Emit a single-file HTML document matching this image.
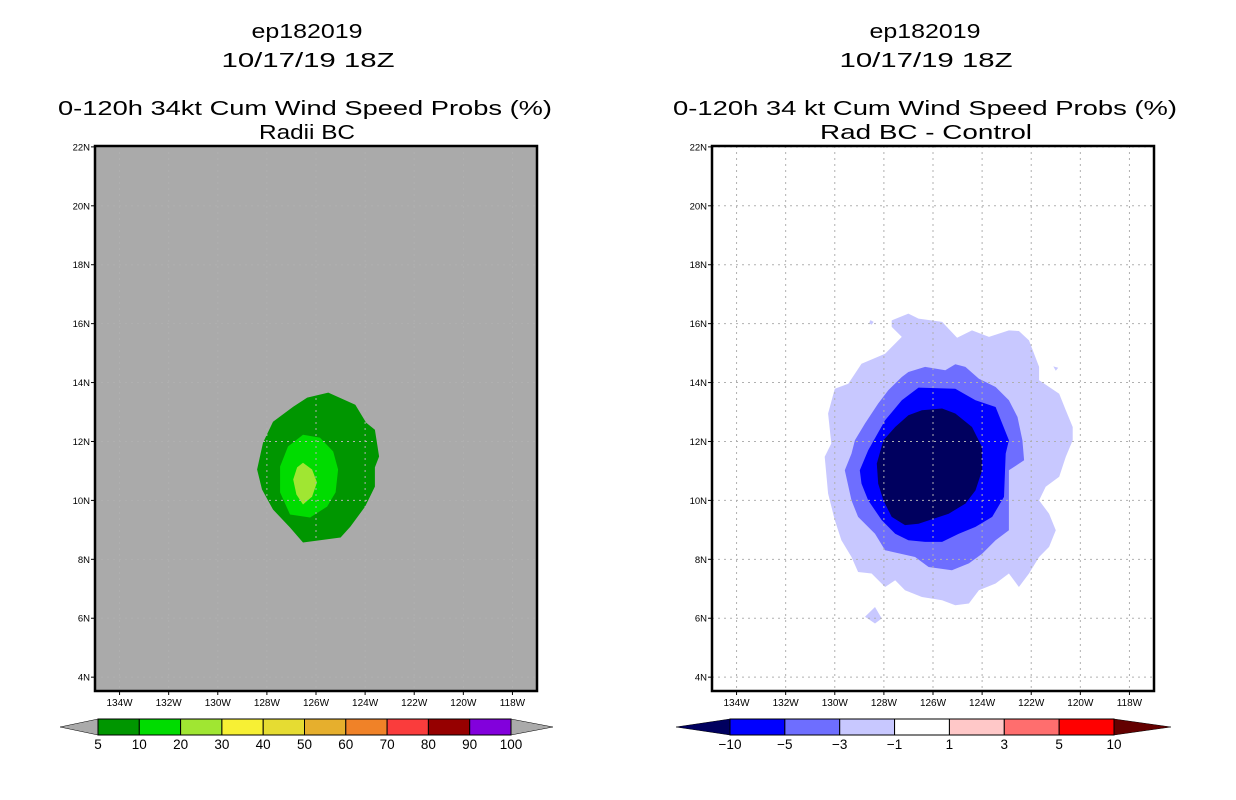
<!DOCTYPE html>
<html><head><meta charset="utf-8"><style>
html,body{margin:0;padding:0;background:#fff;}
svg{display:block;font-family:"Liberation Sans",sans-serif;}
</style></head><body>
<svg id="chart" width="1236" height="800" viewBox="0 0 1236 800" xmlns="http://www.w3.org/2000/svg">
<rect width="1236" height="800" fill="#fff"/>
<g font-size="20" text-anchor="middle" fill="#000">
<text x="307" y="38" textLength="111" lengthAdjust="spacingAndGlyphs">ep182019</text>
<text x="308" y="67" textLength="173" lengthAdjust="spacingAndGlyphs">10/17/19 18Z</text>
<text x="305" y="115" textLength="494" lengthAdjust="spacingAndGlyphs">0-120h 34kt Cum Wind Speed Probs (%)</text>
<text x="307" y="139" textLength="96" lengthAdjust="spacingAndGlyphs">Radii BC</text>
</g>
<g font-size="20" text-anchor="middle" fill="#000">
<text x="925" y="38" textLength="111" lengthAdjust="spacingAndGlyphs">ep182019</text>
<text x="926" y="67" textLength="173" lengthAdjust="spacingAndGlyphs">10/17/19 18Z</text>
<text x="925" y="115" textLength="504" lengthAdjust="spacingAndGlyphs">0-120h 34 kt Cum Wind Speed Probs (%)</text>
<text x="926" y="139" textLength="212" lengthAdjust="spacingAndGlyphs">Rad BC - Control</text>
</g>
<g id="left"></g>
<g id="right"></g>
<g id="cbl"></g>
<g id="cbr"></g>
</svg>
<script>
// ---- data ----
const lonTicks = [134,132,130,128,126,124,122,120,118];
const latTicks = [4,6,8,10,12,14,16,18,22,20];
// left panel probability contours (lonW, latN)
const probLevels = ['5-10','10-20','20-30'];
const probColors = ['#009600','#00dc00','#a0e632'];
const prob5 = [[125.5,13.66],[124.4,13.25],[123.96,12.64],[123.6,12.4],[123.43,11.49],[123.6,11.12],[123.6,10.47],[124.0,9.79],[124.6,9.11],[125.0,8.74],[126.53,8.57],[127.06,9.08],[127.75,9.69],[128.2,10.37],[128.4,11.05],[128.16,11.96],[127.75,12.67],[126.93,13.18],[126.36,13.49]];
const prob10 = [[126.53,12.23],[125.84,12.13],[125.3,11.66],[125.1,11.05],[125.2,10.27],[125.55,9.79],[126.24,9.42],[127.06,9.52],[127.46,10.27],[127.46,11.15],[127.14,11.83]];
const prob20 = [[126.53,11.28],[126.16,11.05],[125.96,10.61],[126.16,10.13],[126.53,9.86],[126.8,10.2],[126.93,10.71],[126.77,11.12]];
// right panel difference contours
const diffColors = ['#c8c8ff','#6e6eff','#0000ff','#00005f'];
const diffM1 = [[127.68,16.11],[127.0,16.34],[126.59,16.17],[125.63,16.06],[125.02,15.52],[124.41,15.77],[123.72,15.55],[122.91,15.77],[122.5,15.75],[122.09,15.43],[121.68,14.53],[121.68,14.08],[120.86,13.62],[120.59,13.06],[120.31,12.49],[120.31,12.04],[120.59,11.48],[120.86,10.8],[121.41,10.46],[121.68,10.0],[121.27,9.55],[121.0,8.99],[121.27,8.42],[121.68,8.08],[122.09,7.52],[122.5,7.06],[122.91,7.52],[123.45,7.18],[124.13,6.95],[124.54,6.5],[125.09,6.44],[125.63,6.61],[126.45,6.72],[127.14,6.95],[127.54,7.29],[127.95,7.06],[128.5,7.52],[129.05,7.57],[129.32,8.08],[129.73,8.65],[130.0,9.33],[130.27,10.23],[130.41,11.48],[130.14,11.93],[130.27,12.95],[130.0,13.79],[129.45,13.96],[128.91,14.64],[127.95,14.98],[127.27,15.55],[127.68,15.89]];
const diffIsland1 = [[128.36,6.38],[128.09,5.99],[128.36,5.82],[128.77,6.05]];
const diffIsland2 = [[128.55,16.12],[128.42,16.06],[128.5,15.96],[128.6,16.02]];
const diffIsland3 = [[121.1,14.55],[120.9,14.5],[121.0,14.4]];
const diffM3 = [[127.0,14.36],[126.32,14.53],[125.5,14.42],[125.09,14.62],[124.68,14.53],[124.13,14.13],[123.45,13.85],[122.91,13.4],[122.56,12.83],[122.36,12.04],[122.29,11.36],[122.91,11.02],[122.91,9.78],[122.91,8.99],[123.45,8.65],[124.0,8.19],[124.54,7.86],[125.23,7.63],[126.18,7.74],[126.73,8.08],[127.95,8.31],[128.36,8.87],[129.05,9.44],[129.32,10.0],[129.59,11.02],[129.32,11.59],[129.18,12.04],[128.77,12.61],[128.23,13.29],[127.82,13.74],[127.27,14.19]];
const diffM5 = [[126.59,13.83],[125.09,13.79],[124.27,13.4],[123.45,13.17],[123.18,12.61],[122.91,12.04],[123.04,11.59],[123.11,10.12],[123.59,9.44],[124.27,9.1],[124.95,8.87],[125.63,8.59],[126.32,8.59],[127.0,8.65],[127.54,8.87],[128.09,9.33],[128.64,10.0],[128.91,10.57],[128.98,11.02],[128.64,11.7],[127.95,12.72],[127.27,13.4]];
const diffM10 = [[126.45,13.06],[125.63,13.12],[125.09,12.95],[124.41,12.49],[124.0,11.81],[124.0,11.02],[124.27,10.34],[124.68,9.89],[125.36,9.55],[126.59,9.21],[127.14,9.16],[127.68,9.44],[128.02,10.0],[128.23,10.57],[128.29,11.25],[128.02,12.04],[127.54,12.49],[127.0,12.89]];
// colorbars
const probBarLabels = ['5','10','20','30','40','50','60','70','80','90','100'];
const probBarColors = ['#009600','#00dc00','#a0e632','#f7f034','#e6dc32','#e6af2d','#f08228','#fa3c3c','#960000','#8200dc'];
const diffBarLabels = ['\u221210','\u22125','\u22123','\u22121','1','3','5','10'];
const diffBarColors = ['#0000ff','#6e6eff','#c8c8ff','#ffffff','#ffc8c8','#ff6e6e','#ff0000'];

// ---- drawing ----
const NS='http://www.w3.org/2000/svg';
function mk(tag, parent, attrs){const e=document.createElementNS(NS,tag);for(const k in attrs)e.setAttribute(k,attrs[k]);parent.appendChild(e);return e;}
const W0=135, W1=117, LAT0=3.53, LAT1=22.03, PW=442, PH=545, PY=146;
function xS(ox,lonW){return ox+(W0-lonW)/(W0-W1)*PW;}
function yS(lat){return PY+(LAT1-lat)/(LAT1-LAT0)*PH;}
function pts(ox,arr){return arr.map(p=>xS(ox,p[0]).toFixed(1)+','+yS(p[1]).toFixed(1)).join(' ');}

function panel(g, ox, bg, polys, colors, names){
  const r=mk('rect',g,{x:ox,y:PY,width:PW,height:PH,fill:bg});
  
  
  polys.forEach((p,i)=>{
    const e=mk('polygon',g,{points:pts(ox,p),fill:colors[i]});
    
    
  });
  const grid=mk('g',g,{stroke:'#b0b0b0','stroke-width':1,'stroke-dasharray':'2,4',fill:'none'});
  
  
  lonTicks.forEach(l=>{const x=xS(ox,l);mk('line',grid,{x1:x,x2:x,y1:PY,y2:PY+PH});});
  latTicks.forEach(l=>{const y=yS(l);mk('line',grid,{x1:ox,x2:ox+PW,y1:y,y2:y});});
  const fr=mk('rect',g,{x:ox,y:PY,width:PW,height:PH,fill:'none',stroke:'#000','stroke-width':2.5});
  
  
  lonTicks.forEach(l=>{
    const x=xS(ox,l);
    mk('line',g,{x1:x,x2:x,y1:PY+PH,y2:PY+PH+4,stroke:'#000'});
    const t=mk('text',g,{x:x,y:706,'font-size':10,'text-anchor':'middle'});
    t.textContent=l+'W';
    
    
  });
  latTicks.forEach(l=>{
    const y=yS(l);
    mk('line',g,{x1:ox-4,x2:ox,y1:y,y2:y,stroke:'#000'});
    const t=mk('text',g,{x:ox-5,y:y+3.5,'font-size':9.5,'text-anchor':'end'});
    t.textContent=l+'N';
    
    
  });
}
panel(document.getElementById('left'),95,'#aaaaaa',[prob5,prob10,prob20],probColors,['contour-5-10','contour-10-20','contour-20-30']);
panel(document.getElementById('right'),712,'#ffffff',[diffM1,diffIsland1,diffIsland2,diffIsland3,diffM3,diffM5,diffM10],[diffColors[0],diffColors[0],diffColors[0],diffColors[0],diffColors[1],diffColors[2],diffColors[3]],['contour-minus1','contour-minus1-islet','contour-minus1-islet','contour-minus1-islet','contour-minus3','contour-minus5','contour-minus10']);

function colorbar(g,x0,x1,tipL,tipR,colors,labels,lc,rc){
  const y0=719,y1=735,ym=727,n=colors.length,w=(x1-x0)/n;
  const a=mk('polygon',g,{points:`${tipL},${ym} ${x0},${y0} ${x0},${y1}`,fill:lc,stroke:'#000','stroke-width':0.5});
  
  
  const b=mk('polygon',g,{points:`${tipR},${ym} ${x1},${y0} ${x1},${y1}`,fill:rc,stroke:'#000','stroke-width':0.5});
  
  
  colors.forEach((c,i)=>{
    const r=mk('rect',g,{x:x0+i*w,y:y0,width:w,height:y1-y0,fill:c,stroke:'#000','stroke-width':1});
    
    
  });
  labels.forEach((l,i)=>{
    const t=mk('text',g,{x:x0+i*w,y:749,'font-size':13.5,'text-anchor':'middle'});
    t.textContent=l;
    
    
  });
}
colorbar(document.getElementById('cbl'),98,511,60,553,probBarColors,probBarLabels,'#aaaaaa','#aaaaaa');
colorbar(document.getElementById('cbr'),730,1114,676,1171,diffBarColors,diffBarLabels,'#00005f','#640000');
</script>
</body></html>
